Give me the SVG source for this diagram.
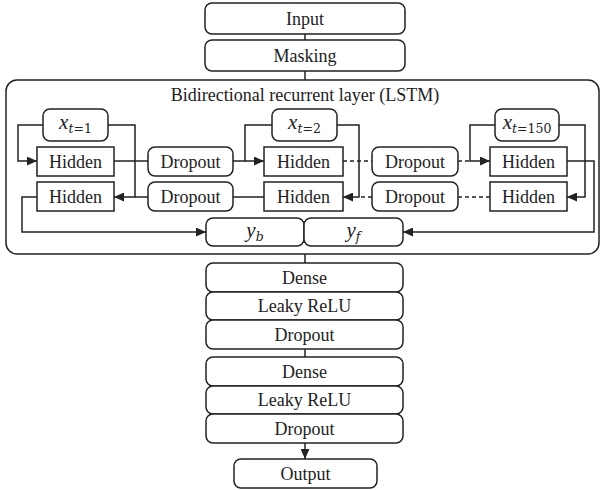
<svg xmlns="http://www.w3.org/2000/svg" width="601" height="490" viewBox="0 0 601 490">
  <defs>
    <marker id="arrow" markerUnits="userSpaceOnUse" markerWidth="11" markerHeight="9" refX="10" refY="4.5" orient="auto">
      <path d="M0,0 L10,4.5 L0,9 z" fill="#222"/>
    </marker>
    <style>
      .rbox { fill: #fff; stroke: #222; stroke-width: 1.5; }
      .frame { fill: none; stroke: #222; stroke-width: 1.5; }
      .sbox { fill: #fff; stroke: #222; stroke-width: 1.5; }
      .lbl { font-family: "Liberation Serif", "Times New Roman", serif; font-size: 18px; fill: #222; text-anchor: middle; }
      .math { font-family: "Liberation Serif", "Times New Roman", serif; font-style: italic; font-size: 21px; fill: #222; text-anchor: middle; }
      .sub { font-family: "DejaVu Serif", "Liberation Serif", serif; font-size: 12.5px; }
      .up { font-style: normal; }
      .wire { fill: none; stroke: #222; stroke-width: 1.5; }
      .dash { stroke-dasharray: 4 3; }
    </style>
  </defs>
  <rect width="601" height="490" fill="#fff"/>

  <g id="lstm-layer">
    <rect class="frame" x="6" y="80" width="593" height="174" rx="11"/>
    <text class="lbl" x="305" y="101">Bidirectional recurrent layer (LSTM)</text>
  </g>

  <!-- connectors -->
  <g id="connectors">
    <path class="wire" d="M305,34 V40"/>
    <path class="wire" d="M305,71 V80"/>
    <!-- t = 1 -->
    <path class="wire" d="M43,125 H18 V161 H37" marker-end="url(#arrow)"/>
    <path class="wire" d="M108,125 H135 V197 H114" marker-end="url(#arrow)"/>
    <path class="wire" d="M148,197 H135"/>
    <path class="wire" d="M114,161 H148"/>
    <path class="wire" d="M37,197 H22 V232 H206" marker-end="url(#arrow)"/>
    <!-- t = 2 -->
    <path class="wire" d="M272,125 H245 V161 H264" marker-end="url(#arrow)"/>
    <path class="wire" d="M233,161 H245"/>
    <path class="wire" d="M337,125 H359 V197 H343" marker-end="url(#arrow)"/>
    <path class="wire dash" d="M343,161 H372"/>
    <path class="wire dash" d="M372,197 H359"/>
    <path class="wire" d="M233,197 H264"/>
    <!-- t = 150 -->
    <path class="wire" d="M495,125 H470 V161 H490" marker-end="url(#arrow)"/>
    <path class="wire dash" d="M458,161 H470"/>
    <path class="wire" d="M559,125 H585 V197 H567" marker-end="url(#arrow)"/>
    <path class="wire dash" d="M458,197 H490"/>
    <path class="wire" d="M567,161 H594 V232 H403" marker-end="url(#arrow)"/>
    <!-- dense head -->
    <path class="wire" d="M305,254 V263"/>
    <path class="wire" d="M305,349 V357"/>
    <path class="wire" d="M305,443 V459" marker-end="url(#arrow)"/>
  </g>

  <g id="input">
    <rect class="rbox" x="205" y="3" width="200" height="31" rx="7"/>
    <text class="lbl" x="305" y="25">Input</text>
  </g>
  <g id="masking">
    <rect class="rbox" x="205" y="40" width="200" height="31" rx="7"/>
    <text class="lbl" x="305" y="62">Masking</text>
  </g>

  <g id="x1">
    <rect class="rbox" x="43" y="109" width="65" height="32" rx="7"/>
    <text class="math" x="75.5" y="129">x<tspan class="sub" dy="4">t<tspan class="up">=1</tspan></tspan></text>
  </g>
  <g id="x2">
    <rect class="rbox" x="272" y="109" width="65" height="32" rx="7"/>
    <text class="math" x="304.5" y="129">x<tspan class="sub" dy="4">t<tspan class="up">=2</tspan></tspan></text>
  </g>
  <g id="x150">
    <rect class="rbox" x="495" y="109" width="64" height="32" rx="7"/>
    <text class="math" x="527" y="129">x<tspan class="sub" dy="4">t<tspan class="up">=150</tspan></tspan></text>
  </g>

  <g id="hidden-f1">
    <rect class="sbox" x="37" y="147" width="77" height="29"/>
    <text class="lbl" x="75.5" y="168">Hidden</text>
  </g>
  <g id="hidden-b1">
    <rect class="sbox" x="37" y="182" width="77" height="29"/>
    <text class="lbl" x="75.5" y="203">Hidden</text>
  </g>
  <g id="hidden-f2">
    <rect class="sbox" x="264" y="147" width="79" height="29"/>
    <text class="lbl" x="303.5" y="168">Hidden</text>
  </g>
  <g id="hidden-b2">
    <rect class="sbox" x="264" y="182" width="79" height="29"/>
    <text class="lbl" x="303.5" y="203">Hidden</text>
  </g>
  <g id="hidden-f150">
    <rect class="sbox" x="490" y="147" width="77" height="29"/>
    <text class="lbl" x="528.5" y="168">Hidden</text>
  </g>
  <g id="hidden-b150">
    <rect class="sbox" x="490" y="182" width="77" height="29"/>
    <text class="lbl" x="528.5" y="203">Hidden</text>
  </g>

  <g id="dropout-f1">
    <rect class="rbox" x="148" y="147" width="85" height="29" rx="7"/>
    <text class="lbl" x="190.5" y="168">Dropout</text>
  </g>
  <g id="dropout-b1">
    <rect class="rbox" x="148" y="182" width="85" height="29" rx="7"/>
    <text class="lbl" x="190.5" y="203">Dropout</text>
  </g>
  <g id="dropout-f2">
    <rect class="rbox" x="372" y="147" width="86" height="29" rx="7"/>
    <text class="lbl" x="415" y="168">Dropout</text>
  </g>
  <g id="dropout-b2">
    <rect class="rbox" x="372" y="182" width="86" height="29" rx="7"/>
    <text class="lbl" x="415" y="203">Dropout</text>
  </g>

  <g id="y-b">
    <rect class="rbox" x="206" y="218" width="98" height="28" rx="7"/>
    <text class="math" x="255" y="237">y<tspan class="sub" dy="4">b</tspan></text>
  </g>
  <g id="y-f">
    <rect class="rbox" x="304" y="218" width="99" height="28" rx="7"/>
    <text class="math" x="353.5" y="237">y<tspan class="sub" dy="4">f</tspan></text>
  </g>

  <g id="dense1">
    <rect class="rbox" x="206" y="263" width="197" height="29" rx="7"/>
    <text class="lbl" x="304.5" y="284">Dense</text>
  </g>
  <g id="leaky1">
    <rect class="rbox" x="206" y="292" width="197" height="28" rx="7"/>
    <text class="lbl" x="304.5" y="312">Leaky ReLU</text>
  </g>
  <g id="dropout-d1">
    <rect class="rbox" x="206" y="320" width="197" height="29" rx="7"/>
    <text class="lbl" x="304.5" y="341">Dropout</text>
  </g>
  <g id="dense2">
    <rect class="rbox" x="206" y="357" width="197" height="29" rx="7"/>
    <text class="lbl" x="304.5" y="378">Dense</text>
  </g>
  <g id="leaky2">
    <rect class="rbox" x="206" y="386" width="197" height="28" rx="7"/>
    <text class="lbl" x="304.5" y="406">Leaky ReLU</text>
  </g>
  <g id="dropout-d2">
    <rect class="rbox" x="206" y="414" width="197" height="29" rx="7"/>
    <text class="lbl" x="304.5" y="435">Dropout</text>
  </g>
  <g id="output">
    <rect class="rbox" x="234" y="459" width="143" height="29" rx="7"/>
    <text class="lbl" x="305.5" y="480">Output</text>
  </g>
</svg>
